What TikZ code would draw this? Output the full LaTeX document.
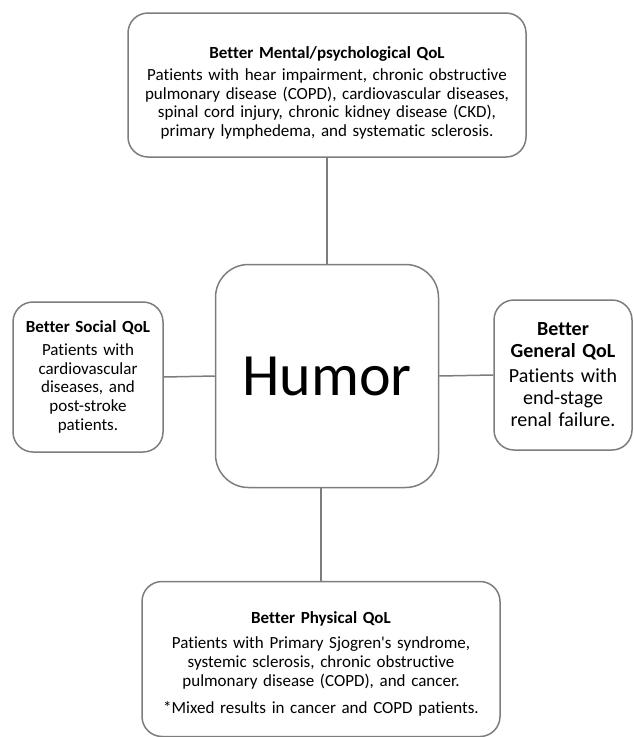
\documentclass[tikz,border=0pt]{standalone}
\usepackage{fontspec}
\setmainfont{Carlito}[Ligatures={TeX,NoCommon}]
\usetikzlibrary{positioning}
\definecolor{edgegray}{RGB}{125,125,125}
\tikzset{
  link/.style={edgegray, line width=1.5pt},
  qolbox/.style={draw=edgegray, line width=1.5pt, fill=white,
                 rounded corners=20pt, inner sep=0pt, align=center,
                 font=\fontsize{17}{18.8}\selectfont},
  humorbox/.style={qolbox, rounded corners=33pt, minimum width=223pt,
                   minimum height=223pt, font=\fontsize{60}{70}\selectfont},
}

\begin{document}
\begin{tikzpicture}[x=1pt,y=-1pt]
  \path[use as bounding box] (0,0) rectangle (633,737);

  \node[humorbox] (humor) at (327,376) {Humor};

  \node[qolbox, minimum width=398pt, minimum height=144pt, text width=385pt] (mental) at (327,85)
    {\rule{0pt}{28pt}\textbf{Better Mental/psychological QoL}\\[3pt]
     Patients with hear impairment, chronic obstructive\\
     pulmonary disease (COPD), cardiovascular diseases,\\
     spinal cord injury, chronic kidney disease (CKD),\\
     primary lymphedema, and systematic sclerosis.};

  \node[qolbox, minimum width=150pt, minimum height=150pt, text width=145pt] (social) at (88,377)
    {\textbf{Better Social QoL}\\[4pt]
     Patients with\\ cardiovascular\\ diseases, and\\ post-stroke\\ patients.};

  \node[qolbox, minimum width=138pt, minimum height=150pt, text width=135pt,
        font=\fontsize{20}{22}\selectfont] (general) at (563,375)
    {\textbf{Better}\\ \textbf{General QoL}\\[3pt]
     Patients with\\ end-stage\\ renal failure.};

  \node[qolbox, minimum width=358pt, minimum height=155pt, text width=350pt,
        font=\fontsize{17}{19.3}\selectfont] (physical) at (321,659)
    {\rule{0pt}{21pt}\textbf{Better Physical QoL}\\[6pt]
     Patients with Primary Sjogren\textquotesingle s syndrome,\\
     systemic sclerosis, chronic obstructive\\
     pulmonary disease (COPD), and cancer.\\[7pt]
     *Mixed results in cancer and COPD patients.};

  \draw[link] (humor.north) -- (mental.south);
  \draw[link] (humor.west) -- (social.east);
  \draw[link] (humor.east) -- (general.west);
  \draw[link] (humor.south -| physical.north) -- (physical.north);
\end{tikzpicture}
\end{document}
